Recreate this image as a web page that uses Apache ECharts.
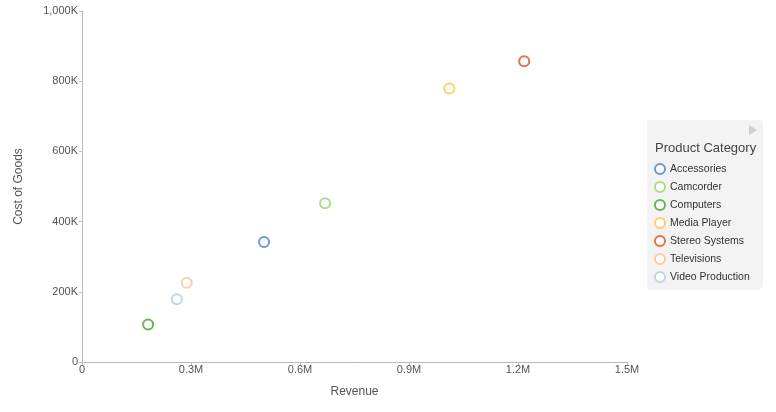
<!DOCTYPE html>
<html><head><meta charset="utf-8">
<script src="https://cdn.jsdelivr.net/npm/echarts@6/dist/echarts.min.js"></script>
<style>html,body{margin:0;padding:0;background:#fff}#c{width:776px;height:412px}</style>
</head><body><div id="c"></div>
<script>
var categories = ['Accessories','Camcorder','Computers','Media Player','Stereo Systems','Televisions','Video Production'];
var revenue = [501000, 669000, 182000, 1011000, 1217000, 288000, 261000];
var costOfGoods = [342000, 452000, 107000, 779000, 857000, 226000, 179000];
var colors = ['#4a80c4','#96d46a','#45a035','#ffc64a','#e54b25','#f5c594','#b3cbea'];
var xTicks = ['0','0.3M','0.6M','0.9M','1.2M','1.5M'];
var yTicks = ['0','200K','400K','600K','800K','1,000K'];

var chart = echarts.init(document.getElementById('c'));
var font = 'Arial, "Liberation Sans", sans-serif';
var series = categories.map(function(name, i){
  return {
    name: name, type: 'scatter', symbol: 'circle', symbolSize: 10,
    itemStyle: {color: '#fff', borderColor: colors[i], borderWidth: 2},
    data: [[revenue[i], costOfGoods[i]]]
  };
});
chart.setOption({
  animation: false,
  textStyle: {fontFamily: font},
  grid: {left: 82, right: 149, top: 11, bottom: 50},
  xAxis: {
    type: 'value', min: 0, max: 1500000, interval: 300000,
    name: 'Revenue', nameLocation: 'middle', nameGap: 24,
    nameTextStyle: {color: '#555', fontSize: 12, fontFamily: font},
    axisLine: {show: true, lineStyle: {color: '#bbb'}},
    axisTick: {show: true, length: 3, lineStyle: {color: '#bbb'}},
    splitLine: {show: false},
    axisLabel: {color: '#555', fontSize: 11, margin: 2, fontFamily: font,
      formatter: function(v){ return xTicks[Math.round(v/300000)]; }}
  },
  yAxis: {
    type: 'value', min: 0, max: 1000000, interval: 200000,
    name: 'Cost of Goods', nameLocation: 'middle', nameGap: 57, nameRotate: 90,
    nameTextStyle: {color: '#555', fontSize: 12, fontFamily: font},
    axisLine: {show: true, lineStyle: {color: '#bbb'}},
    axisTick: {show: true, length: 3, lineStyle: {color: '#bbb'}},
    splitLine: {show: false},
    axisLabel: {color: '#555', fontSize: 11, margin: 4, fontFamily: font,
      formatter: function(v){ return yTicks[Math.round(v/200000)]; }}
  },
  legend: {
    orient: 'vertical', left: 647, top: 120,
    width: 116,
    padding: [43, 12, 7, 7],
    backgroundColor: '#f3f3f3', borderRadius: 4,
    itemWidth: 10, itemHeight: 10, itemGap: 6,
    icon: 'circle',
    textStyle: {color: '#333', fontSize: 10.5, fontFamily: font},
    data: categories.map(function(n, i){
      return {name: n, itemStyle: {color: '#fff', borderColor: colors[i], borderWidth: 2}};
    })
  },
  graphic: [
    {type: 'rect', z: 1, shape: {x: 647, y: 120, width: 116, height: 168, r: 4}, style: {fill: '#f3f3f3'}},
    {type: 'text', z: 100, left: 655, top: 142, style: {text: 'Product Category', fill: '#444', font: '13px ' + font}},
    {type: 'polygon', z: 100, shape: {points: [[749,125],[757,130],[749,135]]}, style: {fill: '#cfcfcf'}}
  ],
  series: series
});
</script></body></html>
